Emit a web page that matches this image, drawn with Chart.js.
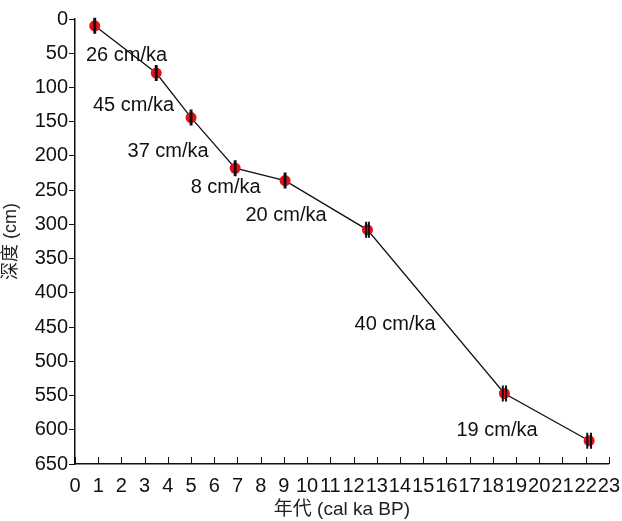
<!DOCTYPE html>
<html>
<head>
<meta charset="utf-8">
<script src="https://cdn.jsdelivr.net/npm/chart.js@4"></script>
<style>
  html, body { margin: 0; padding: 0; background: #fff; }
  #wrap { width: 622px; height: 521px; }
</style>
</head>
<body>
<div id="wrap"><canvas id="ageChart" width="622" height="521"></canvas></div>
<script>
  // age (cal ka BP) and depth (cm) of the dated levels
  const ages = [0.85, 3.5, 5.0, 6.9, 9.05, 12.6, 18.5, 22.15];
  const depths = [10, 79, 144, 218, 236, 308, 547, 616];
  const ageErr = [0.02, 0.02, 0.02, 0.02, 0.02, 0.06, 0.07, 0.08];

  // sedimentation rate labels and where they sit (age, depth)
  const rateLabels = ['26 cm/ka', '45 cm/ka', '37 cm/ka', '8 cm/ka', '20 cm/ka', '40 cm/ka', '19 cm/ka'];
  const rateAges = [2.22, 2.52, 4.01, 6.49, 9.09, 13.79, 18.18];
  const rateDepths = [53, 127, 193, 246, 287, 446, 601];

  const xTicks = Array.from({ length: 24 }, (_, i) => i);

  const FONT = '"Liberation Sans", Arial, "Noto Sans CJK SC", sans-serif';

  // horizontal age error bars, drawn as caps over the red dots
  const errorBars = {
    id: 'errorBars',
    afterDatasetsDraw(chart) {
      const { ctx, scales: { x, y } } = chart;
      ctx.save();
      ctx.strokeStyle = '#111';
      ctx.lineWidth = 2;
      ages.forEach((a, i) => {
        const py = y.getPixelForValue(depths[i]);
        const x0 = x.getPixelForValue(a - ageErr[i]);
        const x1 = x.getPixelForValue(a + ageErr[i]);
        ctx.beginPath();
        ctx.moveTo(x0, py - 8); ctx.lineTo(x0, py + 8);
        ctx.moveTo(x1, py - 8); ctx.lineTo(x1, py + 8);
        ctx.stroke();
      });
      ctx.restore();
    }
  };

  // rate annotations
  const rateText = {
    id: 'rateText',
    afterDatasetsDraw(chart) {
      const { ctx, scales: { x, y } } = chart;
      ctx.save();
      ctx.fillStyle = '#111';
      ctx.font = '20px ' + FONT;
      ctx.textAlign = 'center';
      ctx.textBaseline = 'middle';
      rateLabels.forEach((t, i) => {
        ctx.fillText(t, x.getPixelForValue(rateAges[i]), y.getPixelForValue(rateDepths[i]));
      });
      ctx.restore();
    }
  };

  // x ticks point up into the plot
  const innerTicks = {
    id: 'innerTicks',
    afterDraw(chart) {
      const { ctx, scales: { x, y } } = chart;
      const base = y.getPixelForValue(650);
      ctx.save();
      ctx.strokeStyle = '#111';
      ctx.lineWidth = 1;
      xTicks.forEach(v => {
        const px = Math.round(x.getPixelForValue(v)) + 0.5;
        ctx.beginPath();
        ctx.moveTo(px, base);
        ctx.lineTo(px, base - 7);
        ctx.stroke();
      });
      ctx.restore();
    }
  };

  new Chart(document.getElementById('ageChart'), {
    type: 'scatter',
    data: {
      datasets: [{
        data: ages.map((a, i) => ({ x: a, y: depths[i] })),
        showLine: true,
        borderColor: '#111',
        borderWidth: 1.3,
        pointRadius: 5.5,
        pointBackgroundColor: '#e3101a',
        pointBorderWidth: 0,
        pointHoverRadius: 5.5
      }]
    },
    options: {
      responsive: false,
      animation: false,
      layout: { padding: { top: 19, right: -11, left: 0, bottom: 0 } },
      plugins: { legend: { display: false }, tooltip: { enabled: false } },
      scales: {
        x: {
          type: 'linear',
          min: 0, max: 23,
          afterBuildTicks: s => { s.ticks = xTicks.map(v => ({ value: v })); },
          afterFit: s => { s.height = 57; },
          grid: { display: false },
          border: { color: '#111', width: 1.5 },
          ticks: { autoSkip: false, maxRotation: 0, padding: 2, color: '#111', font: { family: FONT, size: 20 } },
          title: { display: true, text: '年代 (cal ka BP)', color: '#222', padding: { top: 0, bottom: 0 }, font: { family: FONT, size: 19 } }
        },
        y: {
          type: 'linear',
          reverse: true,
          min: 0, max: 650,
          afterFit: s => { s.width = 75; },
          grid: { drawOnChartArea: false, drawTicks: true, tickLength: 6, color: '#111' },
          border: { color: '#111', width: 1.5 },
          ticks: { stepSize: 50, padding: 1, color: '#111', font: { family: FONT, size: 20 } },
          title: { display: true, text: '深度 (cm)', color: '#222', padding: { top: 0, bottom: 0 }, font: { family: FONT, size: 18 } }
        }
      }
    },
    plugins: [innerTicks, errorBars, rateText]
  });
</script>
</body>
</html>
